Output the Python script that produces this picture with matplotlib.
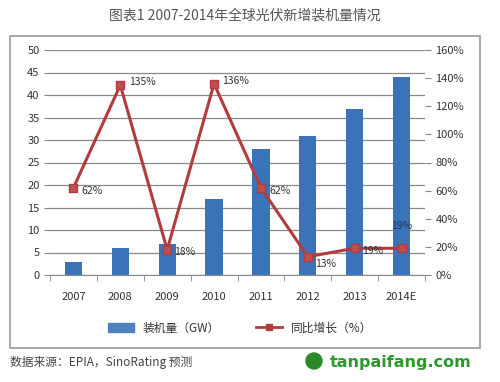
import matplotlib.pyplot as plt
import matplotlib.patches as mpatches
import numpy as np

plt.rcParams['font.family'] = ['Noto Sans CJK SC', 'DejaVu Sans']

years = ["2007", "2008", "2009", "2010", "2011", "2012", "2013", "2014E"]
capacity = [3, 6, 7, 17, 28, 31, 37, 44]
growth = [62, 135, 18, 136, 62, 13, 19, 19]
growth_labels = ["62%", "135%", "18%", "136%", "62%", "13%", "19%", "19%"]

fig = plt.figure(figsize=(5, 3.82), dpi=100)

# outer frame of the chart
fig.patches.append(mpatches.Rectangle((10 / 500, 1 - 348 / 382), 470 / 500, 312 / 382,
                                      transform=fig.transFigure, fill=False,
                                      edgecolor="#9a9a9a", linewidth=1.2))

ax = fig.add_axes([50 / 500, 1 - 275 / 382, 375 / 500, 225 / 382])
x = np.arange(len(years))
ax.bar(x, capacity, width=0.37, color="#3b73b9", zorder=2)
ax.set_xlim(-0.5, len(years) - 0.5)
ax.set_ylim(0, 50)
ax.set_yticks(range(0, 51, 5))
ax.yaxis.grid(True, color="#8a8a8a", linewidth=0.9)
ax.set_axisbelow(True)
ax.set_xticks(x)
ax.set_xticklabels(years)
ax.set_xticks(np.arange(-0.5, len(years), 1), minor=True)
ax.tick_params(axis="x", which="major", length=0, pad=12, labelsize=8, colors="#333333")
ax.tick_params(axis="x", which="minor", length=4, color="#888888")
ax.tick_params(axis="y", length=4, labelsize=8, colors="#333333")
for s in ["top", "right", "left"]:
    ax.spines[s].set_visible(False)
ax.spines["bottom"].set_color("#888888")
ax.tick_params(axis="y", color="#888888")

ax2 = ax.twinx()
ax2.plot(x, growth, color="#b23b3e", linewidth=2.2, marker="s", markersize=6,
         markerfacecolor="#c0504d", markeredgecolor="#b23b3e", zorder=3)
ax2.set_ylim(0, 160)
ax2.set_yticks(range(0, 161, 20))
ax2.set_yticklabels([f"{v}%" for v in range(0, 161, 20)])
ax2.tick_params(axis="y", length=4, labelsize=8, colors="#333333", color="#888888")
for s in ["top", "left", "bottom", "right"]:
    ax2.spines[s].set_visible(False)

offsets = [(6, -2), (6, 2), (5, -2), (6, 2), (6, -2), (5, -5), (5, -2), (0, 16)]
for i, (lab, off) in enumerate(zip(growth_labels, offsets)):
    ax2.annotate(lab, (x[i], growth[i]), xytext=off, textcoords="offset points",
                 fontsize=7.5, color="#333333" if i < 7 else "#1f3864",
                 va="center", ha="left" if i < 7 else "center")

fig.text(0.49, 1 - 16 / 382, "图表1 2007-2014年全球光伏新增装机量情况", ha="center",
         va="center", fontsize=10, color="#555555")

# legend
handles = [mpatches.Patch(color="#4f81bd"),
           plt.Line2D([], [], color="#b23b3e", linewidth=2, marker="s", markersize=4)]
fig.legend(handles, ["装机量（GW）", "同比增长（%）"], loc="center",
           bbox_to_anchor=(0.48, 1 - 328 / 382), ncol=2, frameon=False,
           fontsize=8.5, handlelength=2.2, columnspacing=3, labelcolor="#333333")

fig.text(10 / 500, 1 - 362 / 382, "数据来源：EPIA，SinoRating 预测", ha="left",
         va="center", fontsize=8.5, color="#444444")
fig.text(330 / 500, 1 - 362 / 382, "tanpaifang.com", ha="left", va="center",
         fontsize=11.5, fontweight="bold", color="#2a9a2a", family="DejaVu Sans")
fig.patches.append(mpatches.Ellipse((314 / 500, 1 - 361 / 382), 16 / 500, 16 / 382,
                                    color="#2a8a2a", transform=fig.transFigure))

fig.savefig("out.png", dpi=100)
